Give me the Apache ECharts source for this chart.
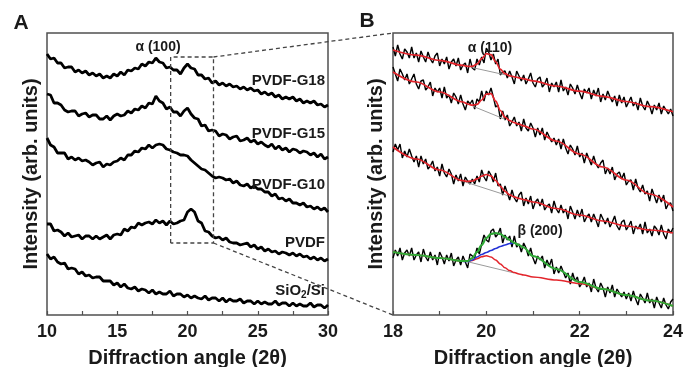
<!DOCTYPE html>
<html>
<head>
<meta charset="utf-8">
<script src="https://cdn.jsdelivr.net/npm/echarts@6/dist/echarts.min.js"></script>
<style>
html,body{margin:0;padding:0;background:#fff}
#main{width:685px;height:367px}
</style>
</head>
<body>
<div id="main"></div>
<script>
// panel A: 2theta 10..30, intensity in arb. units
var angleA = [10,10.25,10.5,10.75,11,11.25,11.5,11.75,12,12.25,12.5,12.75,13,13.25,13.5,13.75,14,14.25,14.5,14.75,
  15,15.25,15.5,15.75,16,16.25,16.5,16.75,17,17.25,17.5,17.75,18,18.25,18.5,18.75,19,19.25,19.5,19.75,
  20,20.25,20.5,20.75,21,21.25,21.5,21.75,22,22.25,22.5,22.75,23,23.25,23.5,23.75,24,24.25,24.5,24.75,
  25,25.25,25.5,25.75,26,26.25,26.5,26.75,27,27.25,27.5,27.75,28,28.25,28.5,28.75,29,29.25,29.5,29.75,30];
var g18 = [261,256,257,252,252,247,248,248,243,245,242,244,240,242,239,241,237,239,237,241,
  239,243,240,245,244,247,246,251,249,253,252,257,253,252,247,248,245,245,241,247,
  251,247,246,240,240,236,237,232,234,230,232,229,231,228,229,226,228,225,227,224,
  225,221,223,220,222,218,220,216,218,216,218,214,216,212,214,212,214,210,211,208,210];
var g15 = [221,220,212,212,210,205,203,204,204,199,201,202,198,200,200,196,196,199,195,199,
  201,199,200,204,202,206,205,209,207,212,211,219,214,212,206,208,203,203,199,204,
  207,201,197,196,189,190,184,185,184,179,181,180,176,178,179,174,175,177,173,175,
  171,173,170,168,171,166,169,165,167,163,166,165,162,164,163,160,162,158,161,156,158];
var g10 = [177,170,168,162,162,162,156,158,155,157,154,155,153,150,152,153,148,151,150,153,
  154,157,155,160,160,164,163,167,166,170,167,170,171,170,166,165,163,162,160,160,
  159,155,152,149,146,145,142,139,137,138,137,135,136,132,134,130,129,131,127,129,
  126,126,123,123,119,121,116,117,114,116,112,112,110,112,108,109,106,108,105,107,103];
var pvdf = [91,91,84,85,83,79,82,78,79,80,76,79,79,76,79,76,78,80,76,80,
  81,80,86,84,88,87,92,90,92,93,91,95,92,94,90,94,91,92,94,95,
  103,106,103,94,92,84,83,79,77,78,75,77,73,72,72,70,71,72,68,70,
  66,68,64,66,63,64,61,63,62,60,62,59,61,58,59,56,58,55,57,54,56];
var sio2 = [61,56,58,53,51,52,46,47,46,41,43,39,40,37,38,38,34,34,34,30,
  32,28,31,27,26,28,24,26,25,22,25,21,23,21,21,24,19,21,21,18,
  20,17,19,17,16,19,15,17,17,14,17,13,16,14,14,16,12,14,14,11,
  14,11,13,11,11,14,10,12,12,9,12,9,11,9,9,12,8,10,10,7,10];

// zoomed window drawn in panel A
var boxX = [18.8, 18.8, 21.85, 21.85, 18.8];
var boxY = [72, 258, 258, 72, 72];

// panel B: 2theta 18..24
var angleB = [18,18.05,18.1,18.15,18.2,18.25,18.3,18.35,18.4,18.45,18.5,18.55,18.6,18.65,18.7,18.75,18.8,18.85,18.9,18.95,
  19,19.05,19.1,19.15,19.2,19.25,19.3,19.35,19.4,19.45,19.5,19.55,19.6,19.65,19.7,19.75,19.8,19.85,19.9,19.95,
  20,20.05,20.1,20.15,20.2,20.25,20.3,20.35,20.4,20.45,20.5,20.55,20.6,20.65,20.7,20.75,20.8,20.85,20.9,20.95,
  21,21.05,21.1,21.15,21.2,21.25,21.3,21.35,21.4,21.45,21.5,21.55,21.6,21.65,21.7,21.75,21.8,21.85,21.9,21.95,
  22,22.05,22.1,22.15,22.2,22.25,22.3,22.35,22.4,22.45,22.5,22.55,22.6,22.65,22.7,22.75,22.8,22.85,22.9,22.95,
  23,23.05,23.1,23.15,23.2,23.25,23.3,23.35,23.4,23.45,23.5,23.55,23.6,23.65,23.7,23.75,23.8,23.85,23.9,23.95,24];
var b18 = [268,259,270,261,256,266,263,257,268,257,262,253,264,258,253,263,256,252,259,262,
  249,256,251,258,246,253,256,249,257,245,250,252,242,256,247,245,256,250,258,252,
  267,263,255,261,251,256,240,243,244,237,244,238,231,244,239,234,240,231,236,242,
  232,228,236,238,228,231,237,223,232,228,233,223,235,224,228,220,231,227,221,230,
  222,216,226,222,227,216,225,219,227,213,221,215,224,218,213,219,209,220,212,218,
  208,213,218,209,213,205,217,209,205,214,209,201,210,205,212,201,209,205,201,206,199];
var b15 = [248,241,234,246,241,235,241,231,236,241,231,226,234,235,225,228,233,219,227,223,
  227,217,228,217,220,212,222,218,211,220,211,205,214,211,215,206,216,213,224,214,
  224,220,227,218,208,210,196,204,195,200,189,193,198,189,193,184,196,187,184,192,
  187,178,187,180,187,175,183,178,173,177,170,176,166,176,167,161,170,166,160,169,
  158,162,152,162,156,150,159,151,147,152,155,141,147,141,148,135,141,143,136,142,
  130,134,135,125,136,127,123,130,121,124,114,126,119,112,120,113,120,106,111,112,104];
var b10 = [163,171,165,171,157,164,158,166,159,153,159,148,159,151,156,146,149,154,144,148,
  139,151,142,138,146,141,131,140,134,141,129,138,134,131,136,131,139,133,145,138,
  134,144,140,133,142,129,131,120,129,122,115,125,117,113,120,123,109,117,111,119,
  106,113,116,109,116,105,109,111,102,114,106,102,110,102,106,96,109,103,96,105,
  98,106,93,98,101,93,101,95,88,101,96,91,97,88,93,99,89,85,93,95,
  85,89,94,81,89,86,91,81,93,82,86,79,89,86,80,90,81,76,86,82,87];
var bPvdf = [57,65,59,67,55,62,65,59,67,55,60,63,53,66,58,54,63,55,60,50,
  63,58,51,60,54,62,49,55,58,50,59,53,47,61,59,57,67,61,71,80,
  75,73,84,86,78,81,87,72,80,75,79,68,79,68,71,63,72,67,59,67,
  57,51,59,55,59,47,55,49,56,41,48,42,49,43,37,42,31,42,34,38,
  28,32,38,28,32,23,36,27,23,32,27,18,28,22,30,18,26,22,18,23,
  16,22,14,24,16,10,21,17,12,22,12,16,7,18,12,7,17,10,6,13,16];

// fitted curves
var fitX = [18,18.5,19,19.5,19.6,19.7,19.8,19.9,20,20.1,20.2,20.3,20.4,20.5,20.6,20.7,20.8,21,21.5,22,22.5,23,23.5,24];
var fit18 = [265,259.9,254.7,249.6,248.7,248.6,250.9,256.3,261.3,260.3,253.2,245.8,241.4,239.2,238.2,237.2,236.2,234.1,229,223.8,218.7,213.5,208.4,203.2];
var fit15 = [243,233,223,213,211,209.8,210.6,215,220.8,221.3,213.9,204.5,197.8,194.4,192.4,190.8,189.2,186,174,161,148,135,121,108];
var fit10 = [168,156,145,134.3,133.6,134,136.1,138.9,140.5,139.1,134.5,128.7,123.6,120.2,118.1,116.6,115.4,113,106.5,100,94,89,85,82];
var fitAlpha = [63,60,57,54,53.9,54.6,56.3,58.2,59.2,58.1,55,51,47.2,44.4,42.5,41,40,38,35,31.5,26,20,14.5,9];
var fitSum = [63,60,57,54,54,57,63,70,77,81,82,81,78,75,72,70,67.5,59,46,33,26,20,14.5,9];
var betaX = [19.5,19.6,19.7,19.8,19.9,20,20.1,20.2,20.3,20.4,20.5,20.6];
var fitBeta = [53.5,53.5,55,58,60.5,62.5,64.5,66.5,68.5,70,71.5,72];

// straight backgrounds under the alpha(110) peak
var baseX18 = [19.7, 20.4], base18 = [247.4, 240.2];
var baseX15 = [19.7, 20.4], base15 = [209, 195.7];
var baseX10 = [19.55, 20.45], base10 = [133, 119.5];
var baseXP = [19.58, 20.6], baseP = [53.5, 42];

var FONT = 'Liberation Sans, Arial, Helvetica, sans-serif';
var INK = '#1a1a1a';

function pairs(xs, ys) {
  return xs.map(function (x, i) { return [x, ys[i]]; });
}

function trace(grid, xs, ys, color, width, extra) {
  var s = {
    type: 'line', xAxisIndex: grid, yAxisIndex: grid,
    data: pairs(xs, ys), showSymbol: false, symbol: 'none',
    lineStyle: { color: color, width: width }, silent: true
  };
  for (var k in extra) s[k] = extra[k];
  return s;
}

function xAx(grid, min, max, step) {
  return {
    gridIndex: grid, type: 'value', min: min, max: max, interval: step,
    axisLine: { show: false },
    axisTick: { show: true, inside: true, length: 4, lineStyle: { color: '#505050', width: 1.2 } },
    minorTick: { show: true, splitNumber: 2, length: 4, lineStyle: { color: '#505050', width: 1.2 } },
    splitLine: { show: false },
    axisLabel: { fontSize: 18, fontWeight: 'bold', color: INK, margin: 8, fontFamily: FONT },
    name: 'Diffraction angle (2θ)', nameLocation: 'middle', nameGap: 33,
    nameTextStyle: { fontSize: 20, fontWeight: 'bold', color: INK, fontFamily: FONT }
  };
}

function yAx(grid, gap) {
  return {
    gridIndex: grid, type: 'value', min: 0, max: 282,
    axisLine: { show: false }, axisTick: { show: false },
    axisLabel: { show: false }, splitLine: { show: false },
    name: 'Intensity (arb. units)', nameLocation: 'middle', nameGap: gap, nameRotate: 90,
    nameTextStyle: { fontSize: 20, fontWeight: 'bold', color: INK, fontFamily: FONT }
  };
}

var myChart = echarts.init(document.getElementById('main'), null, { renderer: 'canvas' });

var series = [
  trace(0, angleA, g18, '#000', 2.8),
  trace(0, angleA, g15, '#000', 2.8),
  trace(0, angleA, g10, '#000', 2.8),
  trace(0, angleA, pvdf, '#000', 2.8),
  trace(0, angleA, sio2, '#000', 2.8),
  trace(0, boxX, boxY, '#444', 1.3, { lineStyle: { color: '#444', width: 1.3, type: [4, 3] } }),

  trace(1, angleB, b18, '#000', 1.4),
  trace(1, angleB, b15, '#000', 1.4),
  trace(1, angleB, b10, '#000', 1.4),
  trace(1, angleB, bPvdf, '#000', 1.4),
  trace(1, baseX18, base18, '#9a9a9a', 1),
  trace(1, baseX15, base15, '#9a9a9a', 1),
  trace(1, baseX10, base10, '#9a9a9a', 1),
  trace(1, baseXP, baseP, '#9a9a9a', 1),
  trace(1, fitX, fit18, '#e3242b', 1.7, { smooth: 0.35, smoothMonotone: 'x' }),
  trace(1, fitX, fit15, '#e3242b', 1.7, { smooth: 0.35, smoothMonotone: 'x' }),
  trace(1, fitX, fit10, '#e3242b', 1.7, { smooth: 0.35, smoothMonotone: 'x' }),
  trace(1, fitX, fitAlpha, '#e3242b', 1.5, { smooth: 0.35, smoothMonotone: 'x' }),
  trace(1, betaX, fitBeta, '#2433d6', 1.6, { smooth: 0.35, smoothMonotone: 'x' }),
  trace(1, fitX, fitSum, '#2fa836', 2.2, { smooth: 0.35, smoothMonotone: 'x' })
];

var option = {
  animation: false,
  grid: [
    { left: 47, top: 33, width: 281, height: 282, show: true, borderColor: '#505050', borderWidth: 1.5,
      containLabel: false, outerBoundsMode: 'none' },
    { left: 393, top: 33, width: 280, height: 282, show: true, borderColor: '#505050', borderWidth: 1.5,
      containLabel: false, outerBoundsMode: 'none' }
  ],
  xAxis: [xAx(0, 10, 30, 5), xAx(1, 18, 24, 2)],
  yAxis: [yAx(0, 6), yAx(1, 7)],
  series: series
};

myChart.setOption(option);

function label(x, y, text, size, align) {
  return {
    type: 'text', x: x, y: y, z: 10, silent: true,
    style: {
      text: text, font: 'bold ' + size + 'px ' + FONT, fill: INK,
      align: align, textAlign: align, verticalAlign: 'middle', textVerticalAlign: 'middle'
    }
  };
}

// dashed connectors from the window in A to the corners of B
var p1 = myChart.convertToPixel({ gridIndex: 0 }, [boxX[2], boxY[1]]);
var p2 = myChart.convertToPixel({ gridIndex: 0 }, [boxX[2], boxY[0]]);
var q1 = myChart.convertToPixel({ gridIndex: 1 }, [18, 282]);
var q2 = myChart.convertToPixel({ gridIndex: 1 }, [18, 0]);

var dash = { stroke: '#444', lineWidth: 1.3, lineDash: [4, 3] };

myChart.setOption({
  graphic: [
    { type: 'line', silent: true, shape: { x1: p1[0], y1: p1[1], x2: q1[0], y2: q1[1] }, style: dash },
    { type: 'line', silent: true, shape: { x1: p2[0], y1: p2[1], x2: q2[0], y2: q2[1] }, style: dash },
    label(21, 23, 'A', 21, 'center'),
    label(367, 21, 'B', 21, 'center'),
    label(158, 47, 'α (100)', 14, 'center'),
    label(325, 81, 'PVDF-G18', 15, 'right'),
    label(325, 134, 'PVDF-G15', 15, 'right'),
    label(325, 185, 'PVDF-G10', 15, 'right'),
    label(325, 243, 'PVDF', 15, 'right'),
    {
      type: 'text', x: 325, y: 292, z: 10, silent: true,
      style: {
        text: '{a|SiO}{b|2}{a|/Si}', align: 'right', textAlign: 'right',
        verticalAlign: 'middle', textVerticalAlign: 'middle', fill: INK,
        rich: {
          a: { font: 'bold 15px ' + FONT, fill: INK, lineHeight: 17, verticalAlign: 'top' },
          b: { font: 'bold 10px ' + FONT, fill: INK, lineHeight: 10, verticalAlign: 'bottom' }
        }
      }
    },
    label(490, 48, 'α (110)', 14, 'center'),
    label(540, 231, 'β (200)', 14, 'center')
  ]
});
</script>
</body>
</html>
